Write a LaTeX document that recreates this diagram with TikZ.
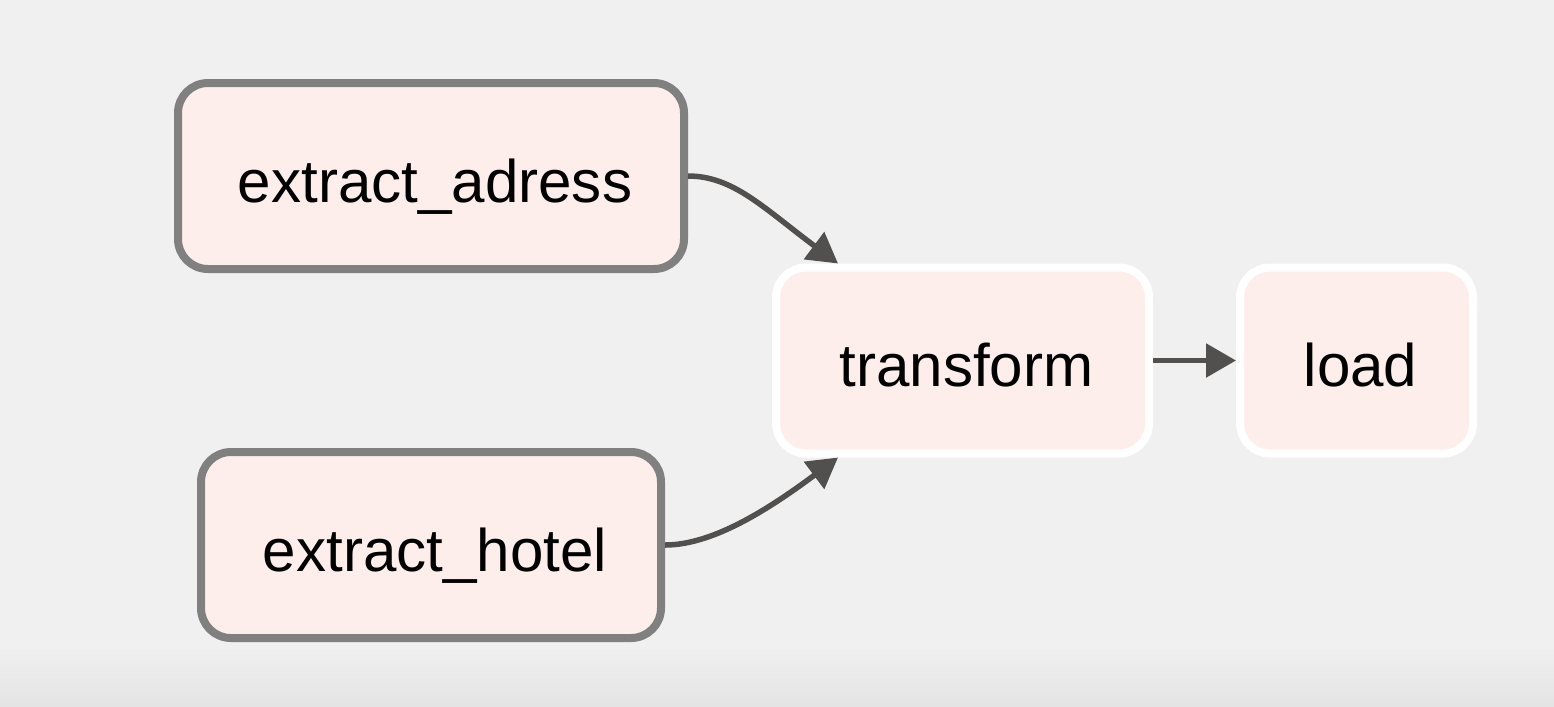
\documentclass[tikz,border=0pt]{standalone}
\usepackage{fontspec}
\setmainfont{Liberation Sans}
\usepackage{xcolor}
\usepackage{tikz}
\usetikzlibrary{arrows.meta, positioning}
\definecolor{canvasgray}{RGB}{240, 240, 240}
\definecolor{bandgray}{RGB}{228, 228, 228}
\definecolor{taskfill}{RGB}{253, 238, 236}
\definecolor{sourceline}{RGB}{128, 128, 128}
\definecolor{edgegray}{RGB}{82, 80, 78}

\begin{document}
\begin{tikzpicture}[
    task/.style={rectangle, rounded corners=0.3cm, draw=sourceline, line width=0.08cm, fill=taskfill, minimum height=1.86cm, text height=0.62cm, text depth=0.1cm, align=center, font=\fontsize{17.1}{20}\selectfont},
    donetask/.style={task, draw=white},
    flow/.style={draw=edgegray, line width=0.055cm, -{Triangle[length=0.3cm, width=0.33cm]}}
]
% Canvas
\fill[canvasgray] (0,0) rectangle (15.54,7.06);
\shade[top color=canvasgray, bottom color=bandgray] (0,0) rectangle (15.54,0.6);
\useasboundingbox (0,0) rectangle (15.54,7.06);

% Tasks
\node[task, minimum width=5.06cm] (adress) at (4.31,5.30) {\hspace{0.08cm}extract\_adress};
\node[task, minimum width=4.60cm] (hotel) at (4.31,1.61) {\hspace{0.08cm}extract\_hotel};
\node[donetask, minimum width=3.73cm] (transform) at (9.625,3.455) {\hspace{0.08cm}transform};
\node[donetask, minimum width=2.33cm] (load) at (13.565,3.455) {\hspace{0.08cm}load};

% Dependencies
\draw[flow] (adress.east) .. controls +(0.45,0) and +(-0.75,0.56) .. ([xshift=0.66cm]transform.north west);
\draw[flow] (hotel.east) .. controls +(0.45,0) and +(-0.75,-0.56) .. ([xshift=0.66cm]transform.south west);
\draw[flow] (transform.east) -- (load.west);
\end{tikzpicture}
\end{document}
